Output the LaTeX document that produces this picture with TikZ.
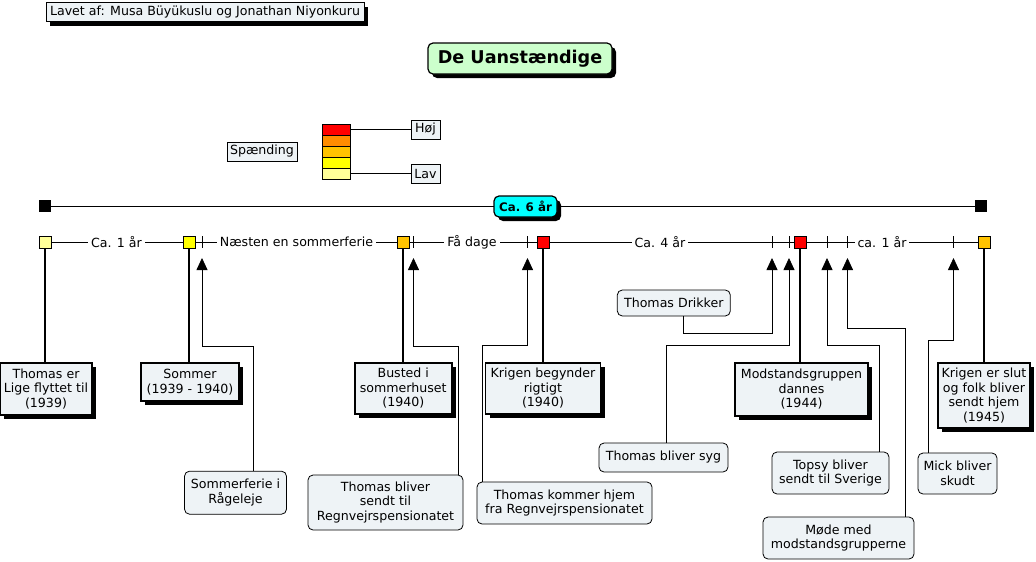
\documentclass[tikz,border=0pt]{standalone}
\usepackage{fontspec}
\setmainfont{DejaVu Sans}
\usetikzlibrary{arrows.meta,shadows}
\definecolor{boxfill}{HTML}{EEF3F6}
\definecolor{titlefill}{HTML}{CCFFCC}
\definecolor{spancyan}{HTML}{00FFFF}
\definecolor{lvred}{HTML}{FF0000}
\definecolor{lvorange}{HTML}{FF8C00}
\definecolor{lvgold}{HTML}{FFC300}
\definecolor{lvyellow}{HTML}{FFFF00}
\definecolor{lvlight}{HTML}{FFFF99}
\begin{document}
\begin{tikzpicture}[x=1pt,y=-1pt,
  font=\fontsize{12.6}{14.5}\selectfont,
  shadowed/.style={drop shadow={shadow xshift=4pt,shadow yshift=-4pt,fill=black,opacity=1}},
  wh/.style 2 args={minimum width=#1pt,minimum height=#2pt},
  evbox/.style={draw,line width=1.6pt,fill=boxfill,align=center,inner sep=0pt,shadowed},
  notebox/.style={draw,line width=0.8pt,rounded corners=5pt,fill=boxfill,align=center,inner sep=0pt},
  plainbox/.style={draw,line width=0.8pt,fill=boxfill,align=center,inner sep=0pt},
  mark sq/.style={draw,line width=0.8pt,minimum size=12pt,inner sep=0pt},
  endsq/.style={fill=black,minimum size=12pt,inner sep=0pt},
  span label/.style={fill=white,inner xsep=3pt,inner ysep=1pt},
  conn/.style={line width=0.8pt,-{Triangle[width=11pt,length=12pt]}},
  stem/.style={line width=2pt},
  legsq/.style={draw,line width=0.8pt,minimum width=28pt,minimum height=11pt,inner sep=0pt}
]
\useasboundingbox (0,0) rectangle (1036,562);

% header and title
\node[plainbox,shadowed,wh={318}{19}] (hdr) at (205,12) {Lavet af: Musa Büyükuslu og Jonathan Niyonkuru};
\node[draw,line width=1.2pt,rounded corners=5pt,fill=titlefill,shadowed,wh={184}{31},inner sep=0pt,
      font=\fontsize{17.6}{20}\selectfont\bfseries] (title) at (520,58.5) {De Uanstændige};

% legend
\node[plainbox,wh={70}{19}] (sp) at (262,151.5) {Spænding};
\node[legsq,fill=lvred]    (l1) at (336,129.5) {};
\node[legsq,fill=lvorange] (l2) at (336,140.5) {};
\node[legsq,fill=lvgold]   (l3) at (336,151.5) {};
\node[legsq,fill=lvyellow] (l4) at (336,162.5) {};
\node[legsq,fill=lvlight]  (l5) at (336,173.5) {};
\node[plainbox,wh={29}{19}] (hoj) at (425.5,129.5) {Høj};
\node[plainbox,wh={29}{19}] (lav) at (425.5,173.5) {Lav};
\draw[line width=0.8pt] (l1.east) -- (hoj.west);
\draw[line width=0.8pt] (l5.east) -- (lav.west);

% overall span
\node[endsq] (tl) at (45,206) {};
\node[endsq] (tr) at (981,206) {};
\draw[line width=0.8pt] (tl) -- (tr);
\node[draw,line width=1.2pt,rounded corners=5pt,fill=spancyan,shadowed,wh={63}{21},inner sep=0pt,
      font=\fontsize{11.8}{14}\selectfont\bfseries] (six) at (525.5,206.5) {Ca. 6 år};

% event row
\coordinate (rowL) at (45,242);
\coordinate (rowR) at (983,242);
\draw[line width=0.8pt] (rowL) -- (rowR);
\foreach \n/\x in {k1/202,k2/413.5,k3/527.5,k4/772,k5/789,k6/827,k7/847.5,k8/953.5}{
  \coordinate (\n) at (\x,242);
  \coordinate (tip\n) at (\x,258);
  \draw[line width=0.8pt] (\x,236) -- (\x,248);
}
\node[span label] (d1) at (116.5,242) {Ca. 1 år};
\node[span label] (d2) at (296.5,242) {Næsten en sommerferie};
\node[span label] (d3) at (472,242) {Få dage};
\node[span label] (d4) at (660,242) {Ca. 4 år};
\node[span label] (d5) at (882,242) {ca. 1 år};

\node[mark sq,fill=lvlight]  (s1) at (45,242) {};
\node[mark sq,fill=lvyellow] (s2) at (189,242) {};
\node[mark sq,fill=lvgold]   (s3) at (403,242) {};
\node[mark sq,fill=lvred]    (s4) at (543,242) {};
\node[mark sq,fill=lvred]    (s5) at (800,242) {};
\node[mark sq,fill=lvgold]   (s6) at (984,242) {};

% event boxes
\node[evbox,wh={92}{52}]  (B1) at (46,389) {Thomas er\\Lige flyttet til\\(1939)};
\node[evbox,wh={98}{38}]  (B2) at (190,382) {Sommer\\(1939 - 1940)};
\node[evbox,wh={97}{51}]  (B3) at (403.3,388.5) {Busted i\\sommerhuset\\(1940)};
\node[evbox,wh={115}{51}] (B4) at (543,388.5) {Krigen begynder\\rigtigt\\(1940)};
\node[evbox,wh={133}{53}] (B5) at (801.5,389.5) {Modstandsgruppen\\dannes\\(1944)};
\node[evbox,wh={92}{65}]  (B6) at (984,395.5) {Krigen er slut\\og folk bliver\\sendt hjem\\(1945)};
\foreach \s/\b in {s1/B1,s2/B2,s3/B3,s4/B4,s5/B5,s6/B6}{
  \draw[stem] (\s.south) -- (\s.south |- \b.north);
}

% notes
\node[notebox,wh={102}{43}] (R1) at (235.5,492.7) {Sommerferie i\\Rågeleje};
\node[notebox,wh={155}{55}] (R2) at (385.5,502.5) {Thomas bliver\\sendt til\\Regnvejrspensionatet};
\node[notebox,wh={175}{42}] (R3) at (564.5,503) {Thomas kommer hjem\\fra Regnvejrspensionatet};
\node[notebox,wh={113}{26}] (R4) at (673.8,303) {Thomas Drikker};
\node[notebox,wh={129}{29}] (R5) at (663.5,457.5) {Thomas bliver syg};
\node[notebox,wh={117}{42}] (R6) at (830.5,473) {Topsy bliver\\sendt til Sverige};
\node[notebox,wh={151}{42}] (R7) at (838.5,538) {Møde med\\modstandsgrupperne};
\node[notebox,wh={79}{41}]  (R8) at (957.5,473.5) {Mick bliver\\skudt};

\draw[conn] ([xshift=17.5pt]R1.north) -- ++(0,-124.5) -| (tipk1);
\draw[conn] ([xshift=72.5pt]R2.north) -- ++(0,-128) -| (tipk2);
\draw[conn] ([xshift=-82.5pt]R3.north) -- ++(0,-136.5) -| (tipk3);
\draw[conn] ([xshift=10pt]R4.south) -- ++(0,17) -| (tipk4);
\draw[conn] ([xshift=2.5pt]R5.north) -- ++(0,-97) -| (tipk5);
\draw[conn] ([xshift=48.5pt]R6.north) -- ++(0,-106.5) -| (tipk6);
\draw[conn] ([xshift=66.5pt]R7.north) -- ++(0,-188) -| (tipk7);
\draw[conn] ([xshift=-29.5pt]R8.north) -- ++(0,-112) -| (tipk8);
\end{tikzpicture}
\end{document}
